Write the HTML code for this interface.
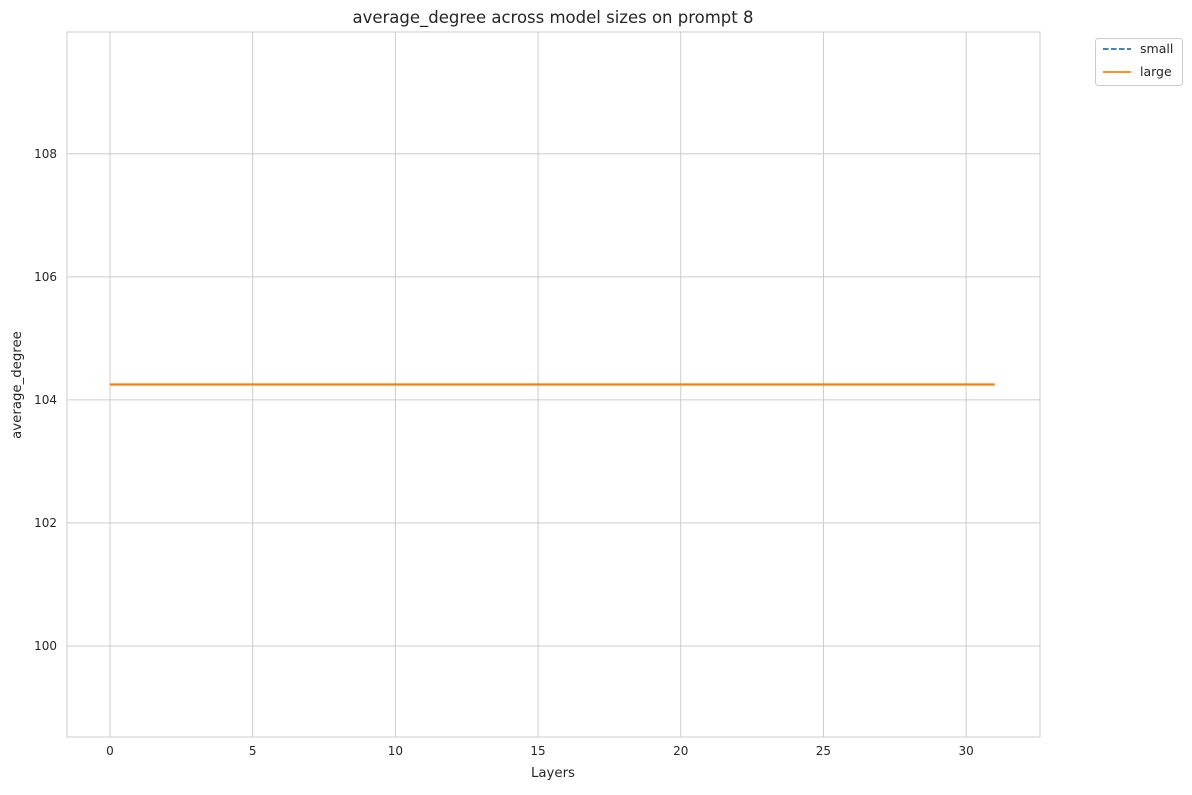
<!DOCTYPE html>
<html><head><meta charset="utf-8"><style>
body{margin:0;background:#fff;font-family:"Liberation Sans","DejaVu Sans",sans-serif;}
svg text{font-family:"DejaVu Sans","Liberation Sans",sans-serif;fill:#262626;}
</style></head><body>
<svg id="chart" width="1192" height="790">
<rect x="0" y="0" width="1192" height="790" fill="#fff"/>
<g id="grid"></g>
<rect x="67" y="32" width="973" height="705" fill="none" stroke="#cccccc" stroke-width="1"/>
<g id="series"></g>
<g id="ticks"></g>
<text x="553" y="23" font-size="16.5" text-anchor="middle">average_degree across model sizes on prompt 8</text>
<text x="553" y="777" font-size="13.3" text-anchor="middle">Layers</text>
<text x="21" y="385" font-size="13.3" text-anchor="middle" transform="rotate(-90 21 385)">average_degree</text>
<g>
<rect x="1095.5" y="38.5" width="87" height="47" rx="3" fill="#fff" stroke="#cccccc"/>
<g>
<line x1="1103" y1="49" x2="1131" y2="49" stroke="#1f77b4" stroke-width="1.8" stroke-dasharray="5.5,2.5"/>
<text x="1140" y="53" font-size="12.5">small</text></g>
<g>
<line x1="1103" y1="72" x2="1131" y2="72" stroke="#ff7f0e" stroke-width="1.8"/>
<text x="1140" y="76" font-size="12.5">large</text></g>
</g>
</svg>
<script>
const layers=[];for(let i=0;i<32;i++)layers.push(i);
const smallValues=[104.25,104.25,104.25,104.25,104.25,104.25,104.25,104.25,104.25,104.25,104.25,104.25,104.25,104.25,104.25,104.25,104.25,104.25,104.25,104.25,104.25,104.25,104.25,104.25,104.25,104.25,104.25,104.25,104.25,104.25,104.25,104.25];
const largeValues=[104.25,104.25,104.25,104.25,104.25,104.25,104.25,104.25,104.25,104.25,104.25,104.25,104.25,104.25,104.25,104.25,104.25,104.25,104.25,104.25,104.25,104.25,104.25,104.25,104.25,104.25,104.25,104.25,104.25,104.25,104.25,104.25];
const xTicks=[0,5,10,15,20,25,30];
const yTicks=[100,102,104,106,108];
const NS="http://www.w3.org/2000/svg";
const X0=67,X1=1040,Y0=32,Y1=737;
const xMin=-1.507,xMax=32.59,yMin=98.52,yMax=109.98;
const sx=v=>X0+(v-xMin)/(xMax-xMin)*(X1-X0);
const sy=v=>Y1-(v-yMin)/(yMax-yMin)*(Y1-Y0);
function mk(t,a,p){const e=document.createElementNS(NS,t);for(const k in a)e.setAttribute(k,a[k]);p.appendChild(e);return e;}
const grid=document.getElementById('grid'),ticks=document.getElementById('ticks'),series=document.getElementById('series');
xTicks.forEach(v=>{const l=mk('line',{x1:sx(v),x2:sx(v),y1:Y0,y2:Y1,stroke:'#cccccc'},grid);


const t=mk('text',{x:sx(v),y:Y1+18,'font-size':12,'text-anchor':'middle'},ticks);t.textContent=v;

});
yTicks.forEach(v=>{const l=mk('line',{x1:X0,x2:X1,y1:sy(v),y2:sy(v),stroke:'#cccccc'},grid);


const t=mk('text',{x:X0-10,y:sy(v)+4,'font-size':12,'text-anchor':'end'},ticks);t.textContent=v;

});
function pts(vals){return vals.map((v,i)=>sx(layers[i])+','+sy(v)).join(' ');}
const s=mk('polyline',{points:pts(smallValues),fill:'none',stroke:'#1f77b4','stroke-width':1.5,'stroke-dasharray':'5.5,2.5'},series);


const g=mk('polyline',{points:pts(largeValues),fill:'none',stroke:'#ff7f0e','stroke-width':2.2},series);


</script>
</body></html>
